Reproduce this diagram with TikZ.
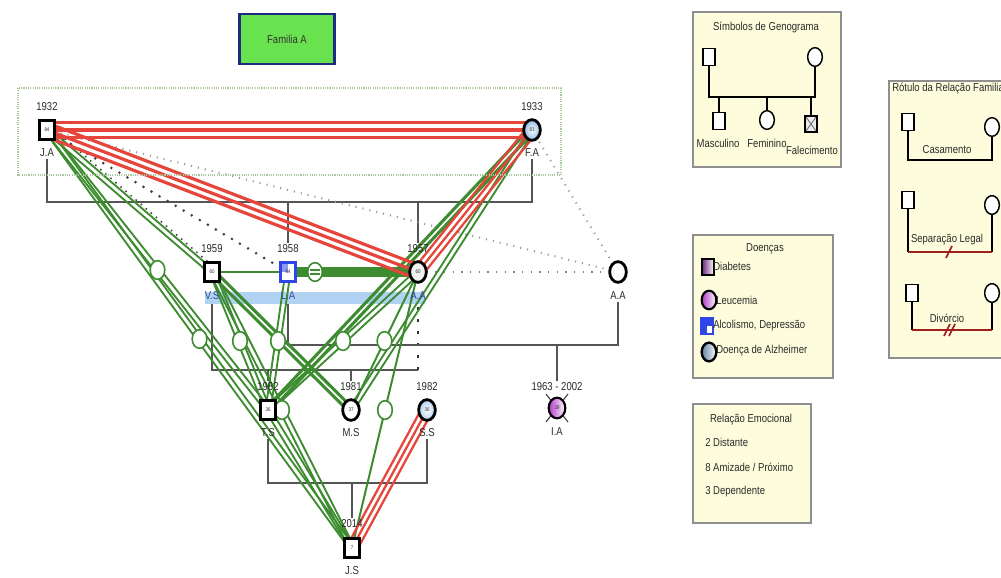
\documentclass[tikz,border=0pt]{standalone}
\usepackage{fontspec}
\setmainfont[FakeStretch=0.83]{Liberation Sans}
\usetikzlibrary{calc,shapes.geometric}
\pgfdeclarelayer{struct}
\pgfdeclarelayer{rel}
\pgfsetlayers{struct,rel,main}

\definecolor{famgreen}{HTML}{68E24E}
\definecolor{famnavy}{HTML}{1C2C80}
\definecolor{relred}{HTML}{E5453B}
\definecolor{relgreen}{HTML}{3D8C30}
\definecolor{kinline}{HTML}{555555}
\definecolor{legfill}{HTML}{FDFDDD}
\definecolor{legdraw}{HTML}{8F8F8F}
\definecolor{boxdot}{HTML}{A9C79C}
\definecolor{fusedblue}{HTML}{B2D2F4}
\definecolor{alcblue}{HTML}{2F45E6}
\definecolor{sepred}{HTML}{9E1F1F}
\definecolor{leukpurple}{HTML}{B23AC6}
\definecolor{diabpurple}{HTML}{6E2A82}
\definecolor{alzblue}{HTML}{8FB8E6}
\definecolor{txt}{HTML}{2A2A2A}
\definecolor{labnavy}{HTML}{2E4A96}

% parallel copies of an emotional-relationship line, shifted sideways
\newcommand\emoline[5]{\draw[#1] ($(#2)!#4!#5:(#3)$) -- ($(#3)!#4!-#5:(#2)$);}
\newcommand\emotwo[4]{\emoline{#1}{#2}{#3}{#4}{90}\emoline{#1}{#2}{#3}{#4}{270}}
\newcommand\emothree[4]{\emoline{#1}{#2}{#3}{#4}{90}\draw[#1] (#2.center) -- (#3.center);\emoline{#1}{#2}{#3}{#4}{270}}

\begin{document}
\begin{tikzpicture}[x=0.75pt, y=-0.75pt,
  every node/.style={text=txt, font=\fontsize{8.6}{10}\selectfont},
  male/.style={rectangle, draw=black, line width=2.1pt, fill=white, minimum width=11pt, minimum height=14pt, inner sep=0pt, font=\fontsize{4}{4}\selectfont},
  female/.style={ellipse, draw=black, line width=2.1pt, fill=white, minimum width=12.5pt, minimum height=15.5pt, inner sep=0pt, font=\fontsize{4}{4}\selectfont},
  yr/.style={inner sep=1pt},
  nm/.style={inner sep=1pt},
  kin/.style={draw=kinline, line width=2pt},
  gdouble/.style={draw=relgreen, line width=1.4pt},
  gthick/.style={draw=relgreen, line width=2.3pt},
  gsingle/.style={draw=relgreen, line width=1.5pt},
  rtriple/.style={draw=relred, line width=2.4pt},
  rthin/.style={draw=relred, line width=1.7pt},
  neardot/.style={draw=black!75, line width=2.2pt, line cap=round, dash pattern=on 0pt off 7pt},
  fardot/.style={draw=black!40, line width=1.6pt, dash pattern=on 0.8pt off 4.5pt},
  depcirc/.style={ellipse, draw=relgreen, line width=1.2pt, fill=white, minimum width=11pt, minimum height=14pt, inner sep=0pt},
  legbox/.style={draw=legdraw, fill=legfill, line width=1.1pt},
  lgmale/.style={rectangle, draw=black, line width=1.1pt, fill=white, minimum width=9pt, minimum height=12.5pt, inner sep=0pt},
  lgfemale/.style={ellipse, draw=black, line width=1.1pt, fill=white, minimum width=11pt, minimum height=14pt, inner sep=0pt},
  lgline/.style={draw=black, line width=1.1pt},
  sepline/.style={draw=sepred, line width=1.3pt}]

\useasboundingbox (0,0) rectangle (1001,578);

% ---------- title and family frame ----------
\node[draw=famnavy, line width=1.8pt, fill=famgreen, minimum width=71pt, minimum height=37.5pt, text=black!80] (famA) at (287,39) {Familia A};
\draw[draw=boxdot, line width=1.5pt, dash pattern=on 0.8pt off 0.9pt] (18,88) rectangle (561,175);

% ---------- people ----------
\node[male] (JA) at (47,130) {84};
\node[yr] (JAy) at (47,107) {1932};
\node[nm] (JAn) at (47,153) {J.A};
\node[female, inner color=white, outer color=alzblue] (FA) at (532,130) {83};
\node[yr] (FAy) at (532,107) {1933};
\node[nm] (FAn) at (532,153) {F.A};

\node[male] (VS) at (212,272) {60};
\node[yr] (VSy) at (212,249) {1959};
\node[nm, text=labnavy] (VSn) at (212,296) {V.S};
\node[male, draw=alcblue, path picture={\fill[alcblue!55] (path picture bounding box.north west) rectangle (path picture bounding box.center);}] (LA) at (288,272) {64};
\node[yr] (LAy) at (288,249) {1958};
\node[nm, text=labnavy] (LAn) at (288,296) {L.A};
\node[female, fill=black!6] (AA) at (418,272) {60};
\node[yr] (AAy) at (418,249) {1957};
\node[nm, text=labnavy] (AAn) at (418,296) {A.A};
\node[female] (AA2) at (618,272) {};
\node[nm] (AA2n) at (618,296) {A.A};

\node[male] (TS) at (268,410) {36};
\node[yr] (TSy) at (268,387) {1982};
\node[nm] (TSn) at (268,433) {T.S};
\node[female] (MS) at (351,410) {37};
\node[yr] (MSy) at (351,387) {1981};
\node[nm] (MSn) at (351,433) {M.S};
\node[female, inner color=white, outer color=alzblue!70] (SS) at (427,410) {36};
\node[yr] (SSy) at (427,387) {1982};
\node[nm] (SSn) at (427,433) {S.S};
\node[female, line width=1.6pt, left color=leukpurple, right color=white] (IA) at (557,408) {39};
\node[yr] (IAy) at (557,387) {1963 - 2002};
\node[nm] (IAn) at (557,432) {I.A};

\node[male] (JS) at (352,548) {7};
\node[yr] (JSy) at (352,524) {2014};
\node[nm] (JSn) at (352,571) {J.S};

% ---------- family structure ----------
\coordinate (m1) at (290,202);
\coordinate (m2) at (300,370);
\coordinate (m3) at (450,345);
\coordinate (m4) at (350,483);
\begin{pgfonlayer}{struct}
  \draw[kin] (JAn.south) -- (JAn.south |- m1) -- (FAn.south |- m1) -- (FAn.south);
  \draw[kin] (LAy.north |- m1) -- (LAy.north);
  \draw[kin] (AAy.north |- m1) -- (AAy.north);
  \draw[kin] (VSn.south) -- (VSn.south |- m2) -- (AAn.south |- m2);
  \draw[draw=black!80, line width=2pt, dash pattern=on 2pt off 7pt] (AAn.south |- m2) -- (AAn.south);
  \draw[kin] (TSy.north |- m2) -- (TSy.north);
  \draw[kin] (MSy.north |- m2) -- (MSy.north);
  \draw[kin] (LAn.south) -- (LAn.south |- m3) -- (AA2n.south |- m3) -- (AA2n.south);
  \draw[kin] (IAy.north |- m3) -- (IAy.north);
  \draw[kin] (TSn.south) -- (TSn.south |- m4) -- (SSn.south |- m4) -- (SSn.south);
  \draw[kin] (JSy.north |- m4) -- (JSy.north);
\end{pgfonlayer}

% ---------- emotional relationships ----------
\begin{pgfonlayer}{rel}
  \fill[fusedblue] (205,292) rectangle (425,304);
  % deceased mark behind I.A
  \draw[black!70, line width=0.9pt] ($(IA)+(-11,-14)$) -- ($(IA)+(11,14)$);
  \draw[black!70, line width=0.9pt] ($(IA)+(11,-14)$) -- ($(IA)+(-11,14)$);
  % distant
  \draw[fardot] (JA.center) -- (AA2.center);
  \draw[fardot] (FA.center) -- (AA2.center);
  \draw[fardot, draw=black!50, dash pattern=on 1pt off 5.5pt] (AA.center) -- (AA2.center);
  \draw[neardot] (JA.center) -- (LA.center);
  \emoline{neardot, dash pattern=on 0pt off 5pt, line width=1.6pt}{JA}{VS}{3.8pt}{90}
  % close
  \emotwo{gdouble}{JA}{TS}{1.9pt}
  \emotwo{gdouble}{JA}{JS}{1.9pt}
  \emotwo{gdouble}{JA}{VS}{1.9pt}
  \emotwo{gdouble}{VS}{TS}{1.9pt}
  \emotwo{gdouble}{VS}{JS}{1.9pt}
  \emotwo{gdouble}{LA}{TS}{1.9pt}
  \emotwo{gdouble}{AA}{TS}{1.9pt}
  \emotwo{gdouble}{FA}{MS}{1.9pt}
  \emotwo{gdouble}{TS}{JS}{1.9pt}
  \emotwo{gthick}{VS}{MS}{1.9pt}
  \emotwo{gthick}{FA}{TS}{1.9pt}
  \draw[gsingle] (AA.center) -- (MS.center);
  \draw[gsingle] (AA.center) -- (JS.center);
  \draw[gsingle, line width=2.2pt] (VS.center) -- (AA.center);
  \draw[relgreen, line width=8pt] (LA.center) -- (AA.center);
  % conflict
  \emothree{rtriple}{JA}{FA}{5.5pt}
  \emothree{rtriple}{JA}{AA}{5pt}
  \emothree{rthin}{FA}{AA}{4pt}
  \emothree{rthin}{SS}{JS}{4pt}
  % dependence markers
  \node[depcirc] (dp1) at ($(JA)!0.5!(TS)$) {};
  \node[depcirc] (dp2) at ($(JA)!0.5!(JS)$) {};
  \node[depcirc] (dp3) at ($(VS)!0.5!(TS)$) {};
  \node[depcirc] (dp4) at ($(VS)!0.5!(JS)$) {};
  \node[depcirc] (dp5) at ($(LA)!0.5!(TS)$) {};
  \node[depcirc] (dp6) at ($(AA)!0.5!(TS)$) {};
  \node[depcirc] (dp7) at ($(AA)!0.5!(MS)$) {};
  \node[depcirc] (dp8) at ($(AA)!0.5!(JS)$) {};
  \node[depcirc] (dp9) at ($(VS)!0.5!(AA)$) {};
  \draw[relgreen, line width=1.2pt] ($(dp9)+(-5,-2)$) -- ($(dp9)+(5,-2)$);
  \draw[relgreen, line width=1.2pt] ($(dp9)+(-5,2)$) -- ($(dp9)+(5,2)$);
\end{pgfonlayer}

% ---------- legend: genogram symbols ----------
\draw[legbox] (693,12) rectangle (841,167);
\node (lg1t) at (766,27) {Símbolos de Genograma};
\coordinate (lk1) at (760,97);
\node[lgmale] (s1) at (709,57) {};
\node[lgfemale] (s2) at (815,57) {};
\draw[lgline] (s1.south) -- (s1.south |- lk1) -- (s2.south |- lk1) -- (s2.south);
\node[lgmale] (s3) at (719,121) {};
\node[lgfemale] (s4) at (767,120) {};
\node[lgmale, line width=1.7pt, fill=black!8, path picture={\draw[black!55, line width=0.7pt] (path picture bounding box.north west) -- (path picture bounding box.south east) (path picture bounding box.north east) -- (path picture bounding box.south west);}] (s5) at (811,124) {};
\draw[lgline] (s3.north |- lk1) -- (s3.north);
\draw[lgline] (s4.north |- lk1) -- (s4.north);
\draw[lgline] (s5.north |- lk1) -- (s5.north);
\node (s3t) at (718,143) {Masculino};
\node (s4t) at (767,143) {Feminino};
\node (s5t) at (812,150) {Falecimento};

% ---------- legend: family relations ----------
\draw[legbox] (889,81) rectangle (1012,358);
\node[anchor=west, inner sep=0pt] (lg2t) at (892,88) {Rótulo da Relação Familiar};
\coordinate (k1) at (950,160);
\coordinate (k2) at (950,252);
\coordinate (k3) at (950,330);
\node[lgmale] (c1) at (908,122) {};
\node[lgfemale] (c2) at (992,127) {};
\draw[lgline] (c1.south) -- (c1.south |- k1) -- (c2.south |- k1) -- (c2.south);
\node (c1t) at (947,150) {Casamento};
\node[lgmale] (d1) at (908,200) {};
\node[lgfemale] (d2) at (992,205) {};
\draw[lgline] (d1.south) -- (d1.south |- k2);
\draw[lgline] (d2.south) -- (d2.south |- k2);
\draw[sepline] (d1.south |- k2) -- (d2.south |- k2);
\draw[sepline] ($(k2)+(-4,6)$) -- ($(k2)+(2,-6)$);
\node (d1t) at (947,240) {Separação Legal};
\node[lgmale] (e1) at (912,293) {};
\node[lgfemale] (e2) at (992,293) {};
\draw[lgline] (e1.south) -- (e1.south |- k3);
\draw[lgline] (e2.south) -- (e2.south |- k3);
\draw[sepline] (e1.south |- k3) -- (e2.south |- k3);
\draw[sepline] ($(k3)+(-6,6)$) -- ($(k3)+(0,-6)$);
\draw[sepline] ($(k3)+(-1,6)$) -- ($(k3)+(5,-6)$);
\node (e1t) at (947,318) {Divórcio};

% ---------- legend: illnesses ----------
\draw[legbox] (693,235) rectangle (833,378);
\node (lg3t) at (765,249) {Doenças};
\node[lgmale, line width=1.6pt, left color=diabpurple, right color=white] (dz1) at (708,267) {};
\node[anchor=west, inner sep=0pt] (dz1t) at (713,266) {Diabetes};
\node[lgfemale, line width=1.6pt, left color=leukpurple, right color=white] (dz2) at (709,300) {};
\node[anchor=west, inner sep=0pt] (dz2t) at (716,300) {Leucemia};
\node[lgmale, draw=alcblue, line width=1.6pt, fill=alcblue, path picture={\fill[white] (path picture bounding box.center) rectangle (path picture bounding box.south east);}] (dz3) at (707,326) {};
\node[anchor=west, inner sep=0pt] (dz3t) at (713,326) {Alcolismo, Depressão};
\node[lgfemale, line width=1.8pt, left color=alzblue!70!black, right color=white] (dz4) at (709,352) {};
\node[anchor=west, inner sep=0pt] (dz4t) at (716,351) {Doença de Alzheimer};

% ---------- legend: emotional relations ----------
\draw[legbox] (693,404) rectangle (811,523);
\node (lg4t) at (751,420) {Relação Emocional};
\node[anchor=west, inner sep=0pt] (em1) at (705,442) {2 Distante};
\node[anchor=west, inner sep=0pt] (em2) at (705,467) {8 Amizade / Próximo};
\node[anchor=west, inner sep=0pt] (em3) at (705,492) {3 Dependente};

\end{tikzpicture}
\end{document}
